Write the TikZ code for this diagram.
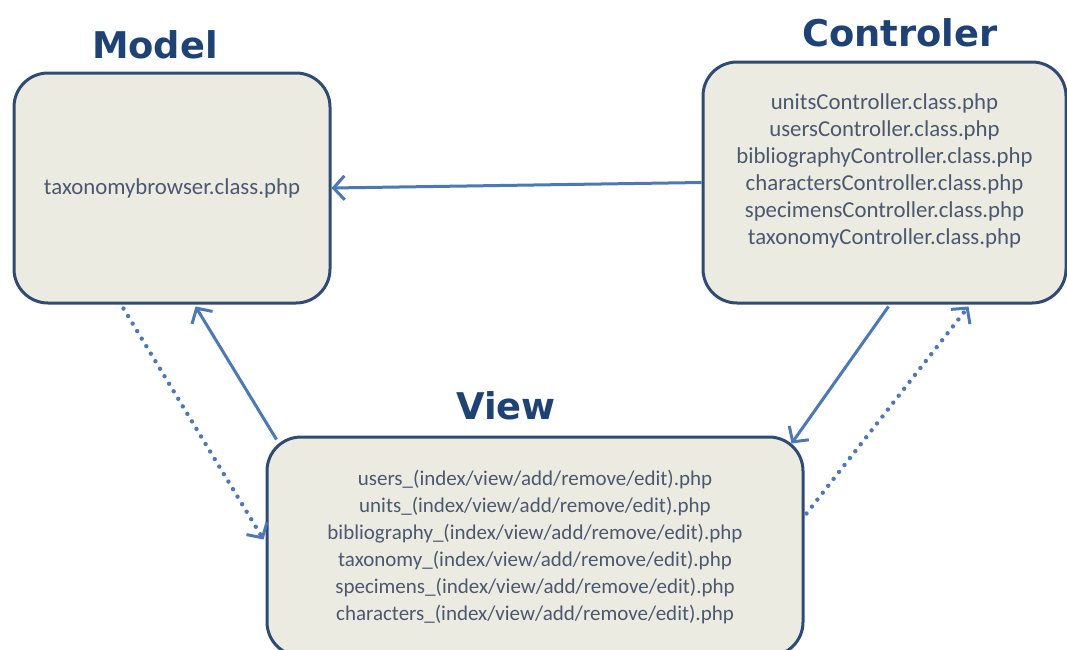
\documentclass[tikz,border=0pt]{standalone}
\usepackage{fontspec}
\setmainfont{Carlito}
\newfontfamily\titlefont{DejaVu Sans}
\usetikzlibrary{arrows.meta,calc}

\definecolor{boxfill}{HTML}{ECEBE1}
\definecolor{boxline}{HTML}{2F4B74}
\definecolor{titleblue}{HTML}{1E4274}
\definecolor{textgrey}{HTML}{4A5870}
\definecolor{linkblue}{HTML}{4C79B5}

\tikzset{
  x=1pt, y=-1pt,
  layer/.style={draw=boxline, fill=boxfill, line width=3pt, rounded corners=34pt,
    inner sep=0pt, text=textgrey, font=\fontsize{22.8}{27}\selectfont, align=center},
  heading/.style={text=titleblue, font=\titlefont\bfseries\fontsize{36.8}{40}\selectfont},
  link/.style={draw=linkblue, line width=3pt,
    -{Straight Barb[length=11pt,width=24pt,line width=3pt]}},
  weaklink/.style={link, line cap=round, dash pattern=on 0pt off 8.8pt, line width=4.4pt}
}

\begin{document}
\begin{tikzpicture}
\useasboundingbox (0,0) rectangle (1067,649);
\fill[white] (0,0) rectangle (1067,649);

% the three layers
\node[layer, minimum width=316pt, minimum height=230pt] (model) at (172,188)
  {taxonomybrowser.class.php};
\node[layer, minimum width=363pt, minimum height=241pt] (ctrl) at (884.5,182.5)
  {unitsController.class.php\\usersController.class.php\\bibliographyController.class.php\\
   charactersController.class.php\\specimensController.class.php\\taxonomyController.class.php\\[-1pt]};
\node[layer, minimum width=536pt, minimum height=219pt, font=\fontsize{21}{27}\selectfont] (view) at (535,546.5)
  {users\_(index/view/add/remove/edit).php\\units\_(index/view/add/remove/edit).php\\
   bibliography\_(index/view/add/remove/edit).php\\taxonomy\_(index/view/add/remove/edit).php\\
   specimens\_(index/view/add/remove/edit).php\\characters\_(index/view/add/remove/edit).php};

% layer titles
\node[heading] (modeltitle) at (155,45) {Model};
\node[heading] (ctrltitle) at (900,33) {Controler};
\node[heading] (viewtitle) at (506,406) {View};

% relations between the layers
\draw[link] (ctrl.west) -- (model.east);
\draw[link] ($(view.north west)+(11,4)$) -- ($(model.south west)+(183,2)$);
\draw[weaklink] ($(model.south west)+(111,4)$) -- ($(view.west)+(-2,-7)$);
\draw[link] ($(ctrl.south)+(4,2)$) -- ($(view.north east)+(-13,8)$);
\draw[weaklink] ($(view.east)+(2,-33)$) -- ($(ctrl.south)+(84,2)$);
\end{tikzpicture}
\end{document}
